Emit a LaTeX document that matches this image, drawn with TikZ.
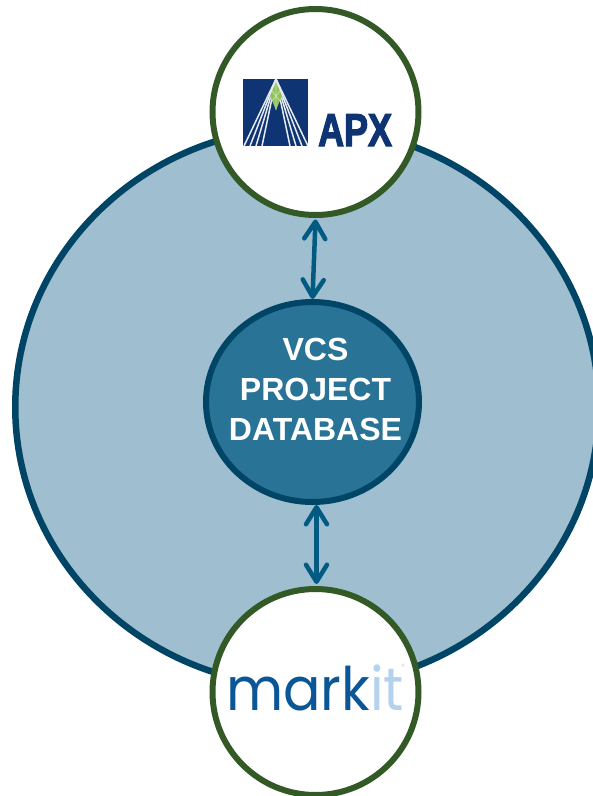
\documentclass[tikz,border=0pt]{standalone}
\usepackage{fontspec}
\usepackage{graphicx}
\setmainfont{Liberation Sans}
\newfontfamily\markfont{Poppins}
\newfontfamily\apxfont[FakeBold=3]{Liberation Sans Bold}
\usetikzlibrary{arrows.meta,shapes.geometric}
\definecolor{bigfill}{HTML}{9FBFD0}
\definecolor{bigline}{HTML}{004566}
\definecolor{dbfill}{HTML}{287396}
\definecolor{ringgreen}{HTML}{335A26}
\definecolor{arrowblue}{HTML}{005A82}
\definecolor{apxnavy}{HTML}{0F3474}
\definecolor{apxgreen}{HTML}{8FC35A}
\definecolor{markdark}{HTML}{0A5696}
\definecolor{marklight}{HTML}{B5D2EC}
\tikzset{
  oval/.style={ellipse,draw,line width=#1,inner sep=0pt,outer sep=auto},
  logoring/.style={circle,draw=ringgreen,fill=white,line width=6pt,minimum size=206pt,inner sep=0pt,outer sep=auto},
  link/.style={draw=arrowblue,line width=4.5pt,line cap=round,{Straight Barb[round,length=17pt,width=21pt]}-{Straight Barb[round,length=17pt,width=21pt]}},
  whitestripe/.style={draw=white!90!apxnavy,line width=1.5pt}
}
\begin{document}
\begin{tikzpicture}[x=1pt,y=-1pt]
\clip (0,0) rectangle (593,796);
\node[oval=6.5pt,draw=bigline,fill=bigfill,minimum width=583.5pt,minimum height=559.5pt] (big) at (307,407) {};
\node[oval=6pt,draw=bigline,fill=dbfill,minimum width=213pt,minimum height=200pt] (db) at (312.5,402) {};
\node[anchor=base,inner sep=0pt,text=white,align=center,font=\bfseries\fontsize{32}{40}\selectfont] (dblabel) at (315.5,440) {VCS\\PROJECT\\DATABASE};
\node[logoring] (apx) at (315.5,112) {};
\node[logoring] (mk) at (315.5,692) {};
% APX logo
\fill[apxnavy] (243,79) rectangle (308,146);
\begin{scope}
\clip (243,79) rectangle (308,146);
\coordinate (tipA) at (276,79);
\foreach \xx in {244,250,256,262,290,296,302,308}{\draw[whitestripe] (tipA) -- (\xx,146);}
\fill[apxgreen] (276,82) -- (282,96) -- (276,110) -- (270,96) -- cycle;
\draw[white!50!apxgreen,line width=.7pt] (276,82) -- (276,110) (272,91) -- (280,101) (280,91) -- (272,101);
\end{scope}
\node[anchor=base west,inner sep=0pt,text=apxnavy,font=\apxfont\fontsize{46}{46}\selectfont] (apxtext) at (318,146) {\scalebox{.78}[1]{APX}};
% markit logo
\node[anchor=base west,inner sep=0pt,font=\markfont\fontsize{60}{60}\selectfont] (mktext) at (226,710) {\scalebox{.925}[1]{\textcolor{markdark}{mark}\textcolor{marklight}{it}}};
\node[inner sep=0pt,text=marklight,font=\fontsize{5}{5}\selectfont] (mkreg) at (403,666) {®};
% connectors
\draw[link] ([yshift=-1.5pt]apx.south) -- (db.north);
\draw[link] ([xshift=4pt]db.south) -- ([xshift=1pt,yshift=2pt]mk.north);
\end{tikzpicture}
\end{document}
